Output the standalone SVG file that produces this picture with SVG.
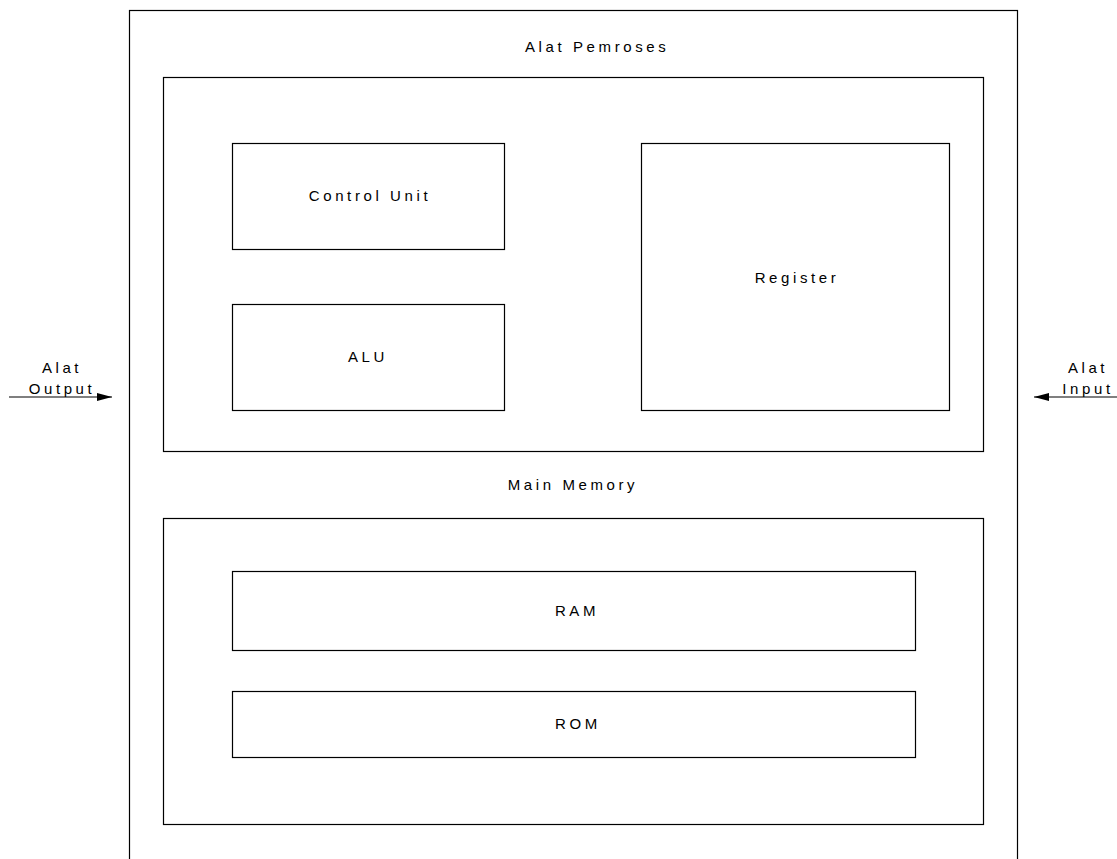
<svg xmlns="http://www.w3.org/2000/svg" width="1117" height="859" viewBox="0 0 1117 859">
<style>
.b{fill:#fff;stroke:#000;stroke-width:1.2}
.t{font-family:"Liberation Sans",Arial,sans-serif;font-size:15px;letter-spacing:3.6px;fill:#000;text-anchor:middle}
.c{stroke:#000;stroke-width:1.2;fill:none}
</style>
<defs>
<marker id="ah" viewBox="0 0 15 8" refX="15" refY="4" markerWidth="15" markerHeight="8" markerUnits="userSpaceOnUse" orient="auto"><path d="M0,0L15,4L0,8z" fill="#000"/></marker>
</defs>
<rect width="1117" height="859" fill="#fff"/>
<g id="outer"><rect class="b" x="129.5" y="10.5" width="888" height="870"/><text class="t" x="525" y="52" style="text-anchor:start">Alat Pemroses</text></g>
<g id="cpu"><rect class="b" x="163.5" y="77.5" width="820" height="374"/></g>
<g id="control-unit"><rect class="b" x="232.5" y="143.5" width="272" height="106"/><text class="t" x="370" y="201">Control Unit</text></g>
<g id="alu"><rect class="b" x="232.5" y="304.5" width="272" height="106"/><text class="t" x="368" y="362">ALU</text></g>
<g id="register"><rect class="b" x="641.5" y="143.5" width="308" height="267"/><text class="t" x="797" y="283">Register</text></g>
<g id="main-memory-label"><text class="t" x="573" y="490">Main Memory</text></g>
<g id="main-memory"><rect class="b" x="163.5" y="518.5" width="820" height="306"/></g>
<g id="ram"><rect class="b" x="232.5" y="571.5" width="683" height="79"/><text class="t" x="577" y="616">RAM</text></g>
<g id="rom"><rect class="b" x="232.5" y="691.5" width="683" height="66"/><text class="t" x="578" y="729">ROM</text></g>
<g id="alat-output"><text class="t" x="62" y="373">Alat</text><text class="t" x="62" y="394">Output</text></g>
<g id="alat-input"><text class="t" x="1088" y="373">Alat</text><text class="t" x="1088" y="394">Input</text></g>
<g id="connectors">
<line class="c" x1="9" y1="397" x2="112" y2="397" marker-end="url(#ah)"/>
<line class="c" x1="1117" y1="397" x2="1034" y2="397" marker-end="url(#ah)"/>
</g>
</svg>
